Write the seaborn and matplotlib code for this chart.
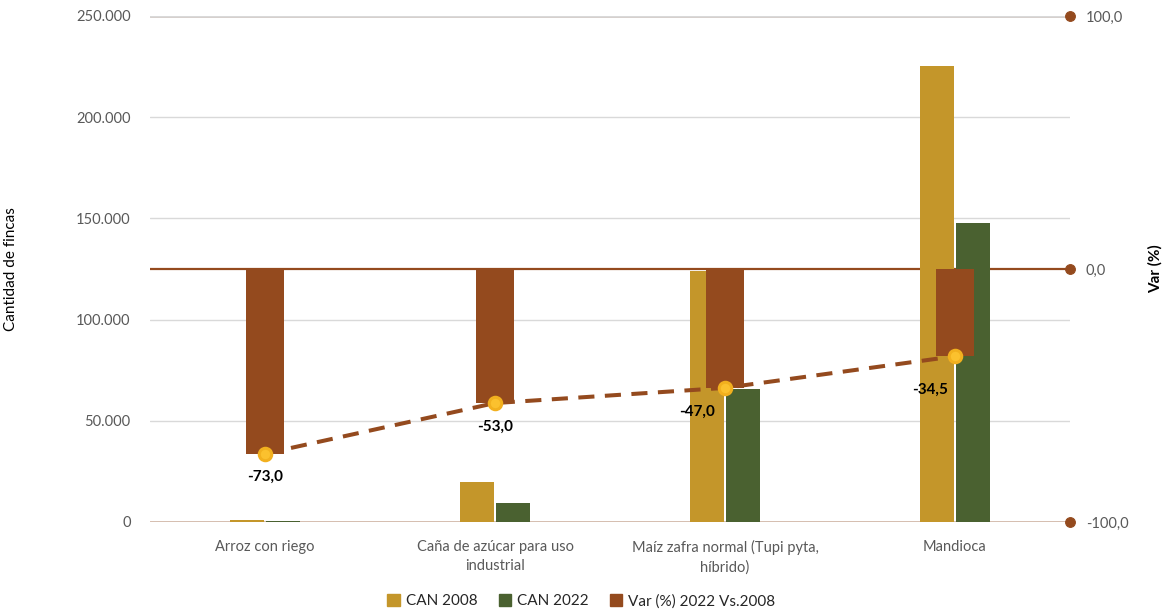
import matplotlib
matplotlib.use('Agg')
import matplotlib.pyplot as plt
from matplotlib.patches import Patch
from matplotlib.ticker import FuncFormatter
import seaborn as sns
import pandas as pd

categories = ['Arroz con riego', 'Caña de azúcar para uso\nindustrial',
              'Maíz zafra normal (Tupi pyta,\nhíbrido)', 'Mandioca']
can_2008 = [900, 19900, 124000, 225400]
can_2022 = [243, 9350, 65700, 147600]
var_pct = [-73.0, -53.0, -47.0, -34.5]
series_names = ['CAN 2008', 'CAN 2022', 'Var (%) 2022 Vs.2008']

gold = '#C4962A'
green = '#4A6130'
brown = '#944A1E'
yellow = '#FBC12E'
grey_txt = '#595959'

df = pd.DataFrame({
    'cultivo': categories * 2,
    'serie': [series_names[0]] * 4 + [series_names[1]] * 4,
    'fincas': can_2008 + can_2022,
})

sns.set_style('white')
plt.rcParams['font.family'] = ['Lato', 'DejaVu Sans']

fig = plt.figure(figsize=(11.63, 6.13), dpi=100)
ax = fig.add_axes([0.129, 0.1485, 0.791, 0.8255])

sns.barplot(data=df, x='cultivo', y='fincas', hue='serie', palette=[gold, green],
            width=0.31, gap=0.06, saturation=1, ax=ax, legend=False,
            edgecolor='none', linewidth=0)
ax.set_ylim(0, 250000)
ax.set_yticks(range(0, 250001, 50000))
ax.yaxis.set_major_formatter(FuncFormatter(lambda v, p: f"{int(v):,}".replace(',', '.')))
ax.grid(axis='y', color='#D9D9D9', linewidth=1)
ax.set_axisbelow(True)
for s in ax.spines.values():
    s.set_visible(False)
ax.axhline(ax.get_ylim()[0], color='#C9A28C', linewidth=1.8, zorder=0.5)
ax.axhline(ax.get_ylim()[1], color='#C9C0BA', linewidth=1.8, zorder=0.5)
# zero line of the secondary axis, drawn behind the CAN bars
ax.axhline(sum(ax.get_ylim()) / 2, color=brown, linewidth=1.6, zorder=0.6)
ax.tick_params(axis='y', length=0, labelsize=10.5, labelcolor=grey_txt, pad=14)
ax.tick_params(axis='x', length=0, labelsize=10.5, labelcolor=grey_txt, pad=13)
for lbl in ax.get_xticklabels():
    lbl.set_linespacing(1.45)
ax.set_xlabel('')
ax.set_ylabel('Cantidad de fincas', fontsize=11, color='black')
ax.yaxis.set_label_coords(-0.1435, 0.5)

ax2 = ax.twinx()
sns.barplot(x=categories, y=var_pct, color=brown, width=0.165, saturation=1, ax=ax2,
            edgecolor='none', linewidth=0)
sns.pointplot(x=categories, y=var_pct, color=brown, errorbar=None, ax=ax2,
              linestyle=(0, (4, 2.6)), linewidth=2.9, markers='o', markersize=9)
for ln in ax2.lines:
    ln.set_markerfacecolor(yellow)
    ln.set_markeredgecolor('#F2B01E')
    ln.set_zorder(4)
ax2.set_xlim(-0.5, 3.5)
ax.set_xlim(-0.5, 3.5)
ax2.set_ylim(-100, 100)
ax2.set_yticks([-100, 0, 100])
ax2.yaxis.set_major_formatter(FuncFormatter(lambda v, p: f"{v:.1f}".replace('.', ',')))
for s in ax2.spines.values():
    s.set_visible(False)
ax2.tick_params(axis='y', labelsize=10.5, labelcolor=grey_txt, pad=8)
for t in ax2.yaxis.get_major_ticks():
    t.tick2line.set_marker('o')
    t.tick2line.set_markersize(7)
    t.tick2line.set_markerfacecolor(brown)
    t.tick2line.set_markeredgecolor(brown)
ax2.set_ylabel('Var (%)', fontsize=11, fontweight='bold', color='black')
ax2.yaxis.set_label_coords(1.085, 0.5)

offsets = [(0, -17), (0, -17), (-20, -17), (-18, -24)]
for i, v in enumerate(var_pct):
    ax2.annotate(f"{v:.1f}".replace('.', ','), (i, v), xytext=offsets[i],
                 textcoords='offset points', ha='center', va='center',
                 fontsize=11, fontweight='bold', color='black', zorder=5)

handles = [Patch(color=c) for c in (gold, green, brown)]
fig.legend(handles, series_names, loc='lower center', bbox_to_anchor=(0.5, -0.015),
           ncol=3, frameon=False, fontsize=11, handlelength=0.8, handleheight=0.8,
           columnspacing=1.4, handletextpad=0.4)

fig.savefig('out.png', dpi=100)
